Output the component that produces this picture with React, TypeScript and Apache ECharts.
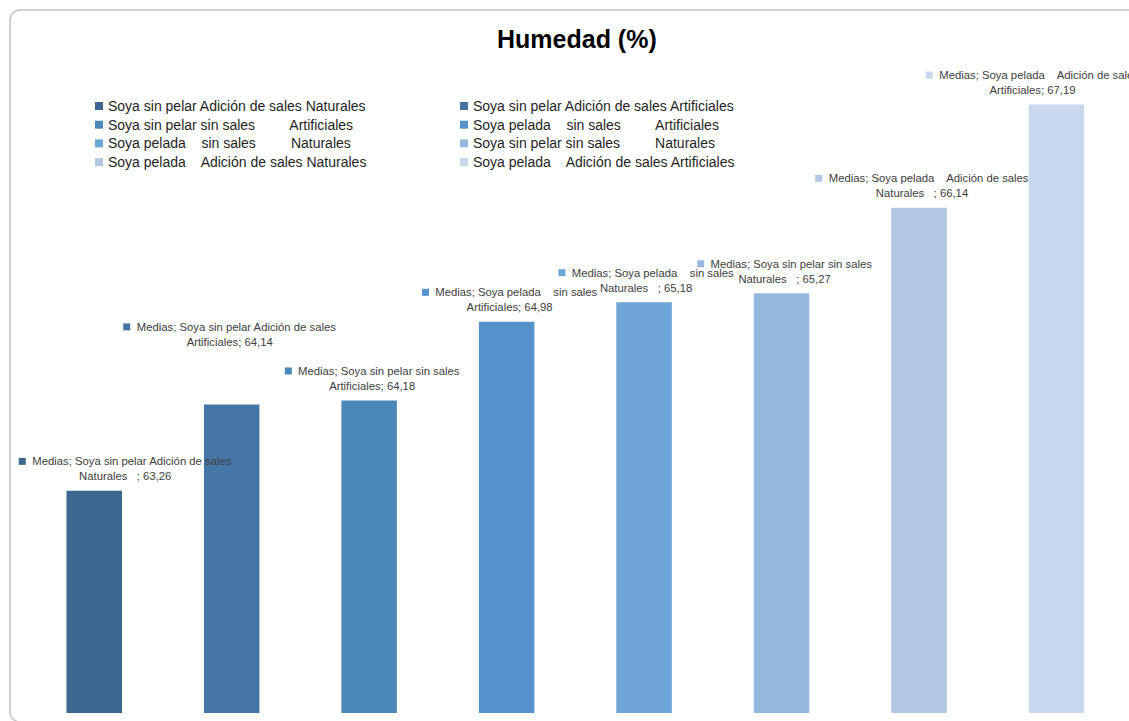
import { useEffect, useRef } from "react";
import * as echarts from "echarts";

// Treatment parts of each sample; padded with spaces like the source sheet names
const peelings = [
  "Soya sin pelar",
  "Soya sin pelar",
  "Soya sin pelar",
  "Soya pelada   ",
  "Soya pelada   ",
  "Soya sin pelar",
  "Soya pelada   ",
  "Soya pelada   ",
];
const salts = [
  "Adición de sales",
  "Adición de sales",
  "sin sales        ",
  "sin sales        ",
  "sin sales        ",
  "sin sales        ",
  "Adición de sales",
  "Adición de sales",
];
const saltTypes = [
  "Naturales   ",
  "Artificiales",
  "Artificiales",
  "Artificiales",
  "Naturales   ",
  "Naturales   ",
  "Naturales   ",
  "Artificiales",
];
// Mean moisture (%) per treatment
const medias = [63.26, 64.14, 64.18, 64.98, 65.18, 65.27, 66.14, 67.19];

const barColors = [
  "#3D6790",
  "#4575A6",
  "#4C87B9",
  "#5691CB",
  "#6CA5D6",
  "#96B8DF",
  "#B2C7E4",
  "#C9D8ED",
];

// Label nudges [dx, dy] in px
const labelShift: [number, number][] = [
  [31, 0],
  [-2, -48],
  [3, 0],
  [3, 0],
  [2, 0],
  [3, 0],
  [3, 0],
  [-24, 0],
];

const FONT = "'Liberation Sans', Arial, sans-serif";

const seriesNames = medias.map(
  (_, i) => `${peelings[i]} ${salts[i]} ${saltTypes[i].trimEnd()}`
);
const categories = medias.map((_, i) => `T${i + 1}`);

const fmt = (v: number) => v.toFixed(2).replace(".", ",");

export default function App() {
  const ref = useRef<HTMLDivElement>(null);

  useEffect(() => {
    document.body.style.margin = "0";
    if (!ref.current) return;
    const chart = echarts.init(ref.current, null, { renderer: "svg" });

    const legendBase = {
      orient: "vertical" as const,
      top: 94,
      itemWidth: 8,
      itemHeight: 8,
      itemGap: 4.7,
      icon: "rect",
      selectedMode: false,
      textStyle: {
        fontFamily: FONT,
        fontSize: 14,
        lineHeight: 14,
        color: "#1f1f1f",
      },
    };

    chart.setOption({
      animation: false,
      backgroundColor: "#ffffff",
      title: {
        text: "Humedad (%)",
        left: 492,
        top: 21,
        textStyle: {
          fontFamily: FONT,
          fontSize: 25,
          fontWeight: "bold",
          color: "#000000",
        },
      },
      legend: [
        { ...legendBase, left: 90, data: seriesNames.filter((_, i) => i % 2 === 0) },
        { ...legendBase, left: 455, data: seriesNames.filter((_, i) => i % 2 === 1) },
      ],
      grid: { left: 25.5, right: 3.8, top: 25, bottom: 8, containLabel: false },
      xAxis: {
        type: "category",
        data: categories,
        show: false,
      },
      yAxis: {
        type: "value",
        min: 61,
        max: 68,
        show: false,
        splitLine: { show: false },
      },
      graphic: [
        {
          type: "rect",
          shape: { x: 10, y: 10, width: 1140, height: 712, r: 10 },
          style: { fill: "none", stroke: "#c4c4c4", lineWidth: 1.5 },
          silent: true,
          z: -1,
        },
      ],
      series: medias.map((v, i) => ({
        type: "bar",
        name: seriesNames[i],
        barWidth: 55.5,
        barGap: "-100%",
        data: medias.map((_, j) => (j === i ? v : "-")),
        itemStyle: { color: barColors[i] },
        label: {
          show: true,
          position: "top",
          distance: 7,
          offset: labelShift[i],
          align: "center",
          fontFamily: FONT,
          fontSize: 11.3,
          lineHeight: 15,
          color: "#404040",
          formatter: () =>
            `{m|}  Medias; ${peelings[i]} ${salts[i].trimEnd()}\n${saltTypes[i]}; ${fmt(v)}`,
          rich: {
            m: {
              width: 7,
              height: 7,
              backgroundColor: barColors[i],
              verticalAlign: "middle",
              align: "center",
            },
          },
        },
      })),
    });

    return () => chart.dispose();
  }, []);

  return <div ref={ref} style={{ width: 1129, height: 721 }} />;
}
